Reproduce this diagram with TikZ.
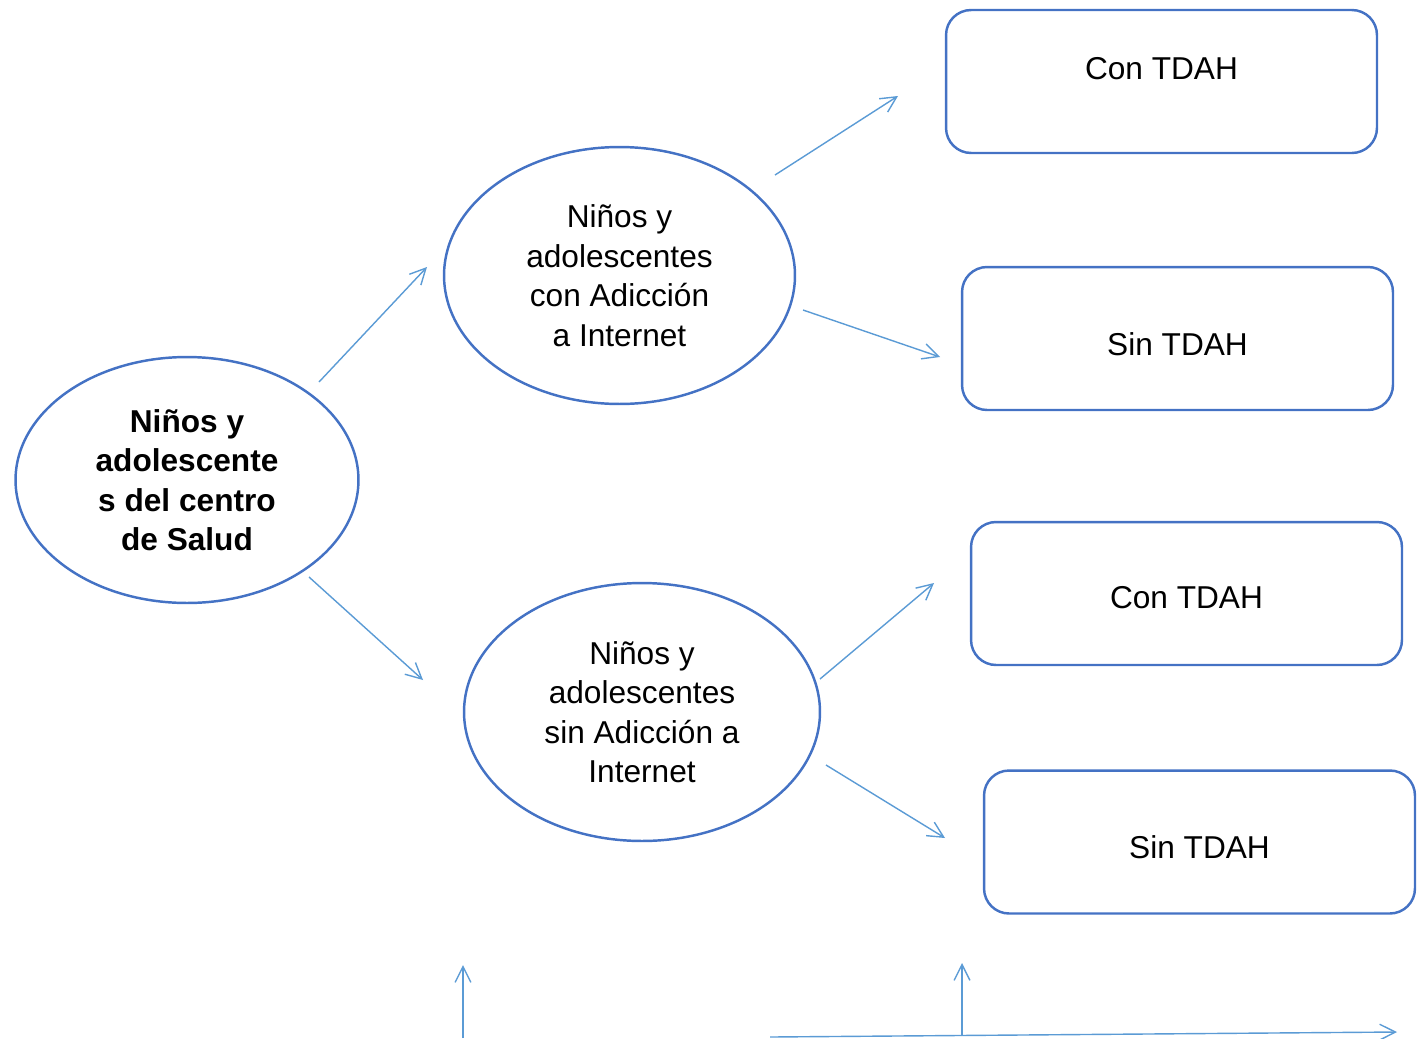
\documentclass[tikz,border=0pt]{standalone}
\usepackage{fontspec}
\setmainfont{Liberation Sans}
\usetikzlibrary{shapes.geometric,arrows.meta}
\definecolor{borde}{HTML}{4472C4}
\definecolor{flecha}{HTML}{5B9BD5}

\begin{document}
\begin{tikzpicture}[x=0.02cm,y=-0.02cm]
    \tikzset{
        grupo/.style={ellipse, draw=borde, line width=1.4pt, inner sep=0pt, align=center,
            font=\fontsize{18}{22.5}\selectfont},
        caja/.style={rectangle, draw=borde, line width=1.4pt, rounded corners=0.5cm,
            minimum width=8.62cm, minimum height=2.86cm},
        txt/.style={font=\fontsize{18}{22.5}\selectfont, inner sep=0pt},
        flechita/.style={draw=flecha, line width=0.8pt, -{Straight Barb[length=9pt,width=9pt]}}
    }
    \useasboundingbox (0,0) rectangle (1422,1038);
    % elipses
    \node [grupo, minimum width=6.86cm, minimum height=4.92cm] (salud) at (187,480)
        {\bfseries Niños y\\\bfseries adolescente\\\bfseries s del centro\\\bfseries de Salud};
    \node [grupo, minimum width=7.02cm, minimum height=5.14cm] (con) at (619.5,275.5)
        {Niños y\\adolescentes\\con Adicción\\a Internet};
    \node [grupo, minimum width=7.12cm, minimum height=5.16cm] (sin) at (642,712)
        {Niños y\\adolescentes\\sin Adicción a\\Internet};
    % cajas
    \node [caja] (c1) at (1161.5,81.5) {};
    \node [txt] (t1) at (1161.5,69) {Con TDAH};
    \node [caja] (c2) at (1177.5,338.5) {};
    \node [txt] (t2) at (1177.5,344) {Sin TDAH};
    \node [caja] (c3) at (1186.5,593.5) {};
    \node [txt] (t3) at (1186.5,598) {Con TDAH};
    \node [caja] (c4) at (1199.5,842) {};
    \node [txt] (t4) at (1199.5,847) {Sin TDAH};
    % extremos de las flechas
    \coordinate (a1) at (319,382);  \coordinate (a2) at (427,267);
    \coordinate (b1) at (309,577);  \coordinate (b2) at (423,680);
    \coordinate (d1) at (775,175);  \coordinate (d2) at (898,96);
    \coordinate (e1) at (803,310);  \coordinate (e2) at (940,357);
    \coordinate (f1) at (820,679);  \coordinate (f2) at (934,583);
    \coordinate (g1) at (826,765);  \coordinate (g2) at (945,838);
    \coordinate (h1) at (463,1038); \coordinate (h2) at (463,965);
    \coordinate (k1) at (962,1036); \coordinate (k2) at (962,963);
    \coordinate (m1) at (770,1037); \coordinate (m2) at (1397,1032);
    \draw [flechita] (a1) -- (a2);
    \draw [flechita] (b1) -- (b2);
    \draw [flechita] (d1) -- (d2);
    \draw [flechita] (e1) -- (e2);
    \draw [flechita] (f1) -- (f2);
    \draw [flechita] (g1) -- (g2);
    \draw [flechita] (h1) -- (h2);
    \draw [flechita] (k1) -- (k2);
    \draw [flechita] (m1) -- (m2);
\end{tikzpicture}
\end{document}
